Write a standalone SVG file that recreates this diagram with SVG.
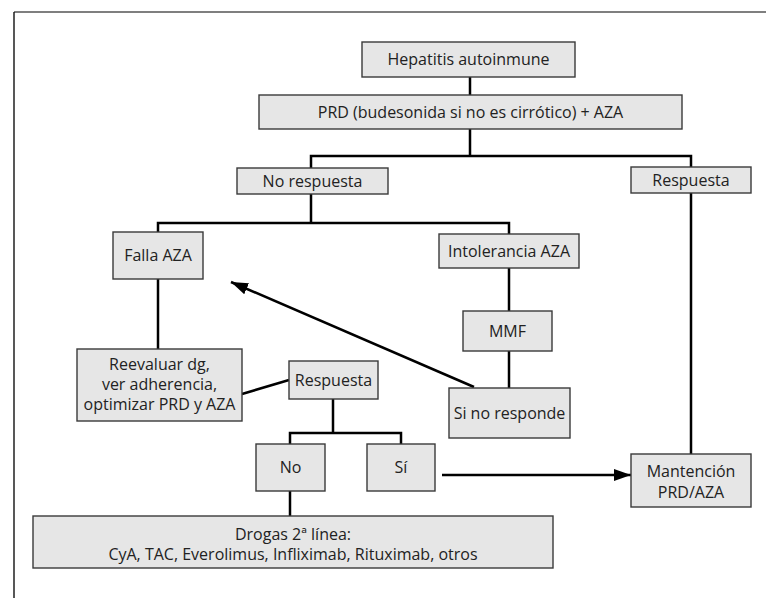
<svg xmlns="http://www.w3.org/2000/svg" width="766" height="598" viewBox="0 0 766 598">
<style>
.box{fill:#e6e6e6;stroke:#3a3a3a;stroke-width:1.4}
.t{font-family:"Open Sans","Noto Sans",sans-serif;font-size:16px;fill:#222;text-anchor:middle}
.c{stroke:#000;stroke-width:2.5;fill:none}
</style>
<defs>
<marker id="ah" markerUnits="userSpaceOnUse" markerWidth="18" markerHeight="12" refX="17" refY="6" orient="auto">
<path d="M0,0 L17,6 L0,12 z" fill="#000"/>
</marker>
</defs>
<rect width="766" height="598" fill="#fff"/>
<line x1="14" y1="12" x2="766" y2="12" stroke="#555" stroke-width="1.4"/>
<line x1="14" y1="12" x2="14" y2="598" stroke="#111" stroke-width="1.4"/>
<g id="connectors">
<path class="c" d="M470,77 V95"/>
<path class="c" d="M470,129 V156 M311,168 V156 H691 V167"/>
<path class="c" d="M311,194 V223 M158,232 V223 H509 V234"/>
<path class="c" d="M158,279 V349"/>
<path class="c" d="M509,268 V311 M509,351 V388"/>
<path class="c" d="M474,387 L231,282" marker-end="url(#ah)"/>
<path class="c" d="M242,394 L289,380"/>
<path class="c" d="M333,399 V433 M290,444 V433 H401 V444"/>
<path class="c" d="M290,491 V516"/>
<path class="c" d="M442,475 H631" marker-end="url(#ah)"/>
<path class="c" d="M691,193 V454"/>
</g>
<g id="hep"><rect class="box" x="362" y="42" width="213" height="35"/><text class="t" x="468.5" y="65">Hepatitis autoinmune</text></g>
<g id="prd"><rect class="box" x="259" y="95" width="423" height="34"/><text class="t" x="470.5" y="118">PRD (budesonida si no es cirrótico) + AZA</text></g>
<g id="norespuesta"><rect class="box" x="237" y="168" width="151" height="26"/><text class="t" x="312.5" y="187">No respuesta</text></g>
<g id="respuesta1"><rect class="box" x="631" y="167" width="120" height="26"/><text class="t" x="691" y="186">Respuesta</text></g>
<g id="falla"><rect class="box" x="113" y="232" width="90" height="47"/><text class="t" x="158" y="261">Falla AZA</text></g>
<g id="intolerancia"><rect class="box" x="439" y="234" width="140" height="34"/><text class="t" x="509" y="257">Intolerancia AZA</text></g>
<g id="mmf"><rect class="box" x="463" y="311" width="89" height="40"/><text class="t" x="507.5" y="337">MMF</text></g>
<g id="sinoresponde"><rect class="box" x="449" y="388" width="121" height="50"/><text class="t" x="509.5" y="419">Si no responde</text></g>
<g id="reevaluar"><rect class="box" x="77" y="349" width="165" height="72"/><text class="t" x="159.5" y="370">Reevaluar dg,</text><text class="t" x="159.5" y="390">ver adherencia,</text><text class="t" x="159.5" y="410">optimizar PRD y AZA</text></g>
<g id="respuesta2"><rect class="box" x="289" y="361" width="89" height="38"/><text class="t" x="333.5" y="386">Respuesta</text></g>
<g id="no"><rect class="box" x="256" y="444" width="69" height="47"/><text class="t" x="290.5" y="473">No</text></g>
<g id="si"><rect class="box" x="367" y="444" width="68" height="47"/><text class="t" x="401" y="473">Sí</text></g>
<g id="mantencion"><rect class="box" x="631" y="454" width="120" height="53"/><text class="t" x="691" y="477">Mantención</text><text class="t" x="691" y="498">PRD/AZA</text></g>
<g id="drogas"><rect class="box" x="33" y="516" width="520" height="52"/><text class="t" x="293" y="540">Drogas 2ª línea:</text><text class="t" x="293" y="560">CyA, TAC, Everolimus, Infliximab, Rituximab, otros</text></g>
</svg>
